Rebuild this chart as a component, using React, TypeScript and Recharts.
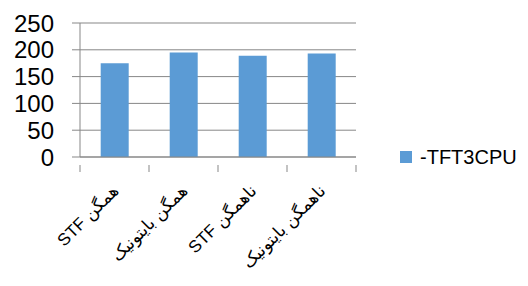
import { Bar, BarChart, CartesianGrid, Legend, XAxis, YAxis } from 'recharts';

const categories = ['همگن STF', 'همگن بایتونیک', 'ناهمگن STF', 'ناهمگن بایتونیک'];
const cpuValues = [175, 195, 189, 193];
const yTicks = [0, 50, 100, 150, 200, 250];
const seriesName = '-TFT3CPU';

const data = categories.map((name, i) => ({ name, cpu: cpuValues[i] }));

const GRID = '#878787';
const BAR = '#5B9BD5';

type TickProps = {
  x?: number;
  y?: number;
  index?: number;
  payload?: { value: string; offset?: number };
};

function CategoryTick({ x = 0, y = 0, index = 0, payload }: TickProps) {
  const half = payload?.offset || 34.5;
  const last = index === categories.length - 1;
  const ax = x + 5;
  const ay = y + 27;
  return (
    <g>
      <line x1={x - half} y1={y} x2={x - half} y2={y + 7} stroke={GRID} />
      {last && <line x1={x + half} y1={y} x2={x + half} y2={y + 7} stroke={GRID} />}
      <text
        x={ax}
        y={ay}
        transform={`rotate(-45, ${ax}, ${ay})`}
        direction="rtl"
        textAnchor="start"
        fontSize={17}
        fontFamily="Arial, 'Liberation Sans', 'DejaVu Sans', sans-serif"
        fill="#000"
      >
        {payload?.value}
      </text>
    </g>
  );
}

function LegendContent() {
  return (
    <div style={{ display: 'flex', alignItems: 'center', fontFamily: 'Arial, "Liberation Sans", sans-serif' }}>
      <span style={{ width: 12, height: 12, background: BAR, display: 'inline-block', marginRight: 8 }} />
      <span style={{ fontSize: 20, color: '#000', lineHeight: '20px' }}>{seriesName}</span>
    </div>
  );
}

export default function App() {
  return (
    <div style={{ position: 'absolute', left: 0, top: 0, background: '#fff' }}>
      <BarChart
        width={528}
        height={286}
        data={data}
        margin={{ top: 23, right: 172, left: 0, bottom: 0 }}
        barCategoryGap="30%"
      >
        <CartesianGrid vertical={false} stroke={GRID} />
        <XAxis
          dataKey="name"
          interval={0}
          height={129}
          axisLine={{ stroke: GRID }}
          tickLine={false}
          tick={<CategoryTick />}
        />
        <YAxis
          domain={[0, 250]}
          ticks={yTicks}
          interval={0}
          width={80}
          axisLine={{ stroke: GRID }}
          tickLine={{ stroke: GRID }}
          tickSize={8}
          tickMargin={18}
          tick={{ fill: '#000', fontSize: 24, fontFamily: 'Arial, "Liberation Sans", sans-serif' }}
        />
        <Legend
          layout="horizontal"
          verticalAlign="middle"
          align="center"
          content={<LegendContent />}
          wrapperStyle={{ position: 'absolute', left: 400, top: 147, width: 128 }}
        />
        <Bar dataKey="cpu" name={seriesName} fill={BAR} isAnimationActive={false} />
      </BarChart>
    </div>
  );
}
